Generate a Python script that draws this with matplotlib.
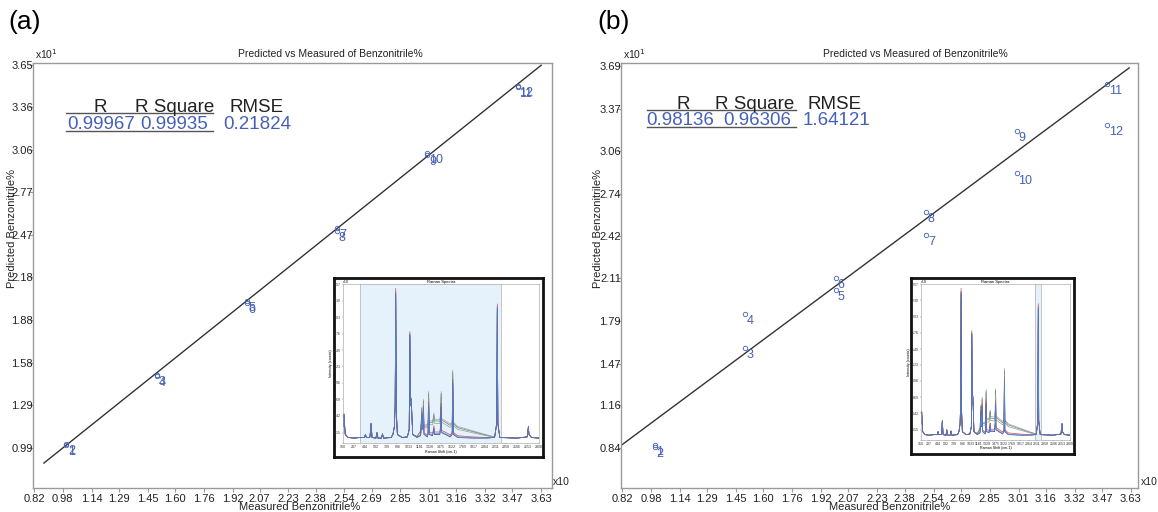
import numpy as np
import matplotlib
matplotlib.use('Agg')
import matplotlib.pyplot as plt

plt.rcParams['font.family'] = ['Liberation Sans', 'DejaVu Sans']

W, H = 1158, 512

# measured vs predicted benzonitrile (x10 %), samples 1..12
sample_ids = ['1', '2', '3', '4', '5', '6', '7', '8', '9', '10', '11', '12']
measured = [1.0, 1.0, 1.5, 1.5, 2.0, 2.0, 2.5, 2.5, 3.0, 3.0, 3.5, 3.5]
pred_a = [1.01, 1.02, 1.50, 1.49, 2.01, 2.00, 2.52, 2.50, 3.03, 3.04, 3.50, 3.51]
pred_b = [0.86, 0.85, 1.59, 1.84, 2.02, 2.11, 2.43, 2.60, 3.21, 2.89, 3.56, 3.25]

# regression line (slope, offset) and its x extent
fit_a = (1.004, 0.007)
fit_b = (1.005, 0.04)
fit_range_a = (0.875, 3.63)
fit_range_b = (0.82, 3.62)

stats_head = ['R', 'R Square', 'RMSE']
stats_a = ['0.99967', '0.99935', '0.21824']
stats_b = ['0.98136', '0.96306', '1.64121']

x_ticks = [0.82, 0.98, 1.14, 1.29, 1.45, 1.60, 1.76, 1.92, 2.07, 2.23,
           2.38, 2.54, 2.69, 2.85, 3.01, 3.16, 3.32, 3.47, 3.63]
y_ticks_a = [0.99, 1.29, 1.58, 1.88, 2.18, 2.47, 2.77, 3.06, 3.36, 3.65]
y_ticks_b = [0.84, 1.16, 1.47, 1.79, 2.11, 2.42, 2.74, 3.06, 3.37, 3.69]

# inset Raman spectrum (hand-read vertices), fluorescence background on same grid
spec_wn = [150, 163, 180, 220, 300, 380, 440, 453, 466, 500, 515, 529, 543, 595, 609, 623, 670, 684, 698,
           800, 825, 845, 855, 863, 871, 885, 950, 1020, 1045, 1054, 1063, 1073, 1081, 1092,
           1150, 1200, 1208, 1214, 1222, 1230, 1237, 1245, 1290, 1300, 1308, 1316,
           1360, 1372, 1379, 1386, 1460, 1470, 1477, 1484, 1600, 1626, 1634, 1642,
           1700, 1900, 2100, 2200, 2228, 2236, 2244, 2270, 2500, 2640, 2650, 2657, 2664, 2700, 2800]
spec_int = [0.25, 0.45, 0.12, 0.07, 0.06, 0.07, 0.07, 0.12, 0.07, 0.07, 0.08, 0.30, 0.07, 0.06, 0.15, 0.06, 0.06, 0.13, 0.06,
            0.07, 0.12, 0.25, 0.60, 2.45, 0.50, 0.12, 0.07, 0.08, 0.20, 1.76, 0.60, 0.70, 0.45, 0.12,
            0.07, 0.10, 0.25, 0.45, 0.20, 0.25, 0.55, 0.12, 0.08, 0.12, 0.60, 0.12,
            0.10, 0.15, 0.22, 0.12, 0.12, 0.25, 0.58, 0.15, 0.08, 0.12, 0.97, 0.12,
            0.07, 0.06, 0.06, 0.07, 0.30, 2.20, 0.30, 0.07, 0.06, 0.08, 0.18, 0.25, 0.12, 0.07, 0.06]
spec_bg = [0] * 19 + [0] * 15 + \
          [0.02, 0.08, 0.10, 0.11, 0.12, 0.13, 0.14, 0.15, 0.20, 0.21, 0.22, 0.22,
           0.24, 0.25, 0.25, 0.25, 0.24, 0.24, 0.24, 0.23, 0.21, 0.20, 0.20, 0.20,
           0.18, 0.12, 0.05, 0.01] + [0] * 11
spec_peak_scale = [1.00, 0.98, 0.96, 1.02, 0.99, 1.00]
spec_bg_scale = [1.00, 0.90, 0.75, 0.15, 0.00, 0.05]
spec_colors = ['#a0a0b2', '#7a7a90', '#80ae76', '#d9473f', '#2e3d86', '#5b86d8']
inset_xticks = [150, 297, 444, 592, 739, 886, 1033, 1181, 1328, 1475, 1622, 1769,
                1917, 2064, 2211, 2358, 2506, 2653, 2800]
inset_yticks = [0.15, 0.42, 0.69, 0.96, 1.23, 1.49, 1.76, 2.03, 2.30, 2.57]
band_a = (386, 2292)
band_b = (2180, 2290)

BLUE = '#4560b8'
GRAY = '#9a9a9a'


def px_rect(l, t, r, b):
    return [l / W, 1 - b / H, (r - l) / W, (b - t) / H]


def fx(x):
    return x / W


def fy(y):
    return 1 - y / H


def draw_panel(fig, rect, pred, fit, fit_range, yticks, ylim, xlim):
    ax = fig.add_axes(rect)
    ax.set_xlim(*xlim)
    ax.set_ylim(*ylim)
    for s in ax.spines.values():
        s.set_color(GRAY)
        s.set_linewidth(1.0)
    ax.set_xticks(x_ticks)
    ax.set_xticklabels([f'{v:.2f}' for v in x_ticks])
    ax.set_yticks(yticks)
    ax.set_yticklabels([f'{v:.2f}' for v in yticks])
    ax.tick_params(axis='both', colors=GRAY, labelcolor='#222222', labelsize=8,
                   length=3, width=0.8, direction='out')
    ax.tick_params(axis='y', pad=-3)
    ax.tick_params(axis='x', pad=1)

    xs = np.array(fit_range)
    ax.plot(xs, fit[0] * xs + fit[1], color='#333333', lw=1.0, clip_on=False)

    ax.plot(measured, pred, 'o', ms=3.2, mfc='none', mec=BLUE, mew=0.6)
    for sid, xv, yv in zip(sample_ids, measured, pred):
        ax.annotate(sid, (xv, yv), xytext=(1.2, -0.8), textcoords='offset points',
                    ha='left', va='top', fontsize=9, color=BLUE)
    return ax


def draw_inset(fig, box, inner, band):
    bx = fig.add_axes(px_rect(*box))
    bx.set_xticks([])
    bx.set_yticks([])
    for s in bx.spines.values():
        s.set_linewidth(2.0)
        s.set_color('#111111')
    ix = fig.add_axes(px_rect(*inner))
    ix.set_xlim(150, 2800)
    ix.set_ylim(-0.02, 2.57)
    ix.axvspan(band[0], band[1], color='#e6f2fb', lw=0)
    ix.axvline(band[0], color='#b0b0b0', lw=0.5)
    ix.axvline(band[1], color='#b0b0b0', lw=0.5)
    wn = np.array(spec_wn)
    base = np.array(spec_int)
    bg = np.array(spec_bg)
    for ps, bs, c in zip(spec_peak_scale, spec_bg_scale, spec_colors):
        ix.plot(wn, base * ps + bg * bs, color=c, lw=0.5)
    ix.set_xticks(inset_xticks)
    ix.set_xticklabels([str(v) for v in inset_xticks])
    ix.set_yticks(inset_yticks)
    ix.set_yticklabels([f'{v:.2f}' for v in inset_yticks])
    ix.tick_params(labelsize=2.6, length=1, width=0.3, pad=0.5, colors='#666666',
                   labelcolor='#333333')
    for s in ix.spines.values():
        s.set_linewidth(0.4)
        s.set_color('#999999')
    ix.set_title('Raman Spectra', fontsize=3, pad=0.5)
    ix.set_xlabel('Raman Shift (cm-1)', fontsize=2.6, labelpad=0.3)
    ix.set_ylabel('Intensity (counts)', fontsize=2.6, labelpad=0.5)
    ix.text(0.0, 1.0, 'x10', transform=ix.transAxes, fontsize=2.6, ha='left', va='bottom')


def draw_stats(fig, head_x, val_x, head_y, val_y, line_x0, line_x1, vals):
    for t, x in zip(stats_head, head_x):
        fig.text(fx(x), fy(head_y), t, ha='center', va='baseline', fontsize=13.5, color='#222222')
    for t, x in zip(vals, val_x):
        fig.text(fx(x), fy(val_y), t, ha='center', va='baseline', fontsize=13.5, color=BLUE)
    fig.add_artist(plt.Line2D([fx(line_x0), fx(line_x1)], [fy(head_y + 1), fy(head_y + 1)],
                              color='#555555', lw=1.0))
    fig.add_artist(plt.Line2D([fx(line_x0), fx(line_x1)], [fy(val_y + 2), fy(val_y + 2)],
                              color='#555555', lw=1.0))


fig = plt.figure(figsize=(W / 100, H / 100), dpi=100)

ax_a = draw_panel(fig, px_rect(33, 63, 552, 488), pred_a, fit_a, fit_range_a,
                  y_ticks_a, (0.712, 3.667), (0.8145, 3.69))
ax_b = draw_panel(fig, px_rect(621, 63, 1138, 488), pred_b, fit_b, fit_range_b,
                  y_ticks_b, (0.541, 3.715), (0.8145, 3.669))

for cx, left in [(330, 33), (915, 621)]:
    fig.text(fx(cx), fy(54), 'Predicted vs Measured of Benzonitrile%', ha='center', va='center',
             fontsize=7.5, color='#222222')
    fig.text(fx(left + 2), fy(54), 'x10$^{1}$', ha='left', va='center', fontsize=7.5, color='#222222')
for cx in [300, 890]:
    fig.text(fx(cx), fy(507), 'Measured Benzonitrile%', ha='center', va='center', fontsize=8,
             color='#222222')
for lx in [12, 598]:
    fig.text(fx(lx), fy(228), 'Predicted Benzonitrile%', ha='center', va='center', rotation=90,
             fontsize=8, color='#222222')
for rx in [553, 1141]:
    fig.text(fx(rx), fy(482), 'x10', ha='left', va='center', fontsize=7.5, color='#222222')

fig.text(fx(8), fy(22), '(a)', ha='left', va='center', fontsize=19)
fig.text(fx(597), fy(22), '(b)', ha='left', va='center', fontsize=19)

draw_stats(fig, [100, 175, 257], [101, 174, 257], 112, 129, 66, 213, stats_a)
draw_stats(fig, [683, 755, 835], [680, 757, 837], 109, 125, 647, 796, stats_b)

draw_inset(fig, (334, 278, 543, 457), (343, 284, 539, 443), band_a)
draw_inset(fig, (911, 278, 1074, 454), (921, 284, 1070, 440), band_b)

fig.savefig('out.png', dpi=100)
